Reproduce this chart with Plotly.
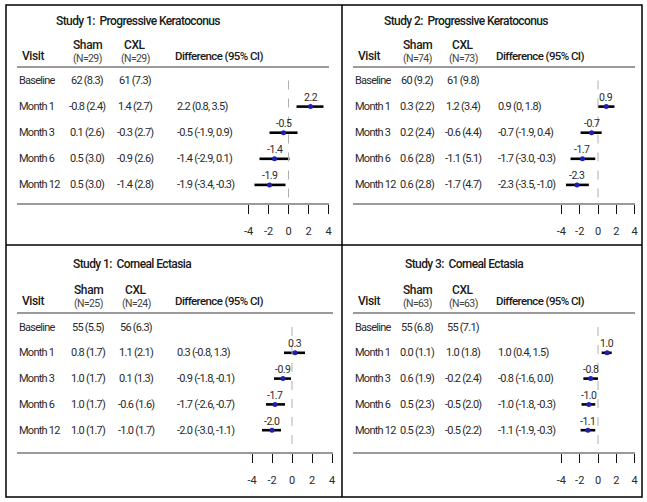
import plotly.graph_objects as go

W, H = 647, 502

visits = ["Baseline", "Month 1", "Month 3", "Month 6", "Month 12"]
titles = ["Study 1:&nbsp; Progressive Keratoconus", "Study 2:&nbsp; Progressive Keratoconus",
          "Study 1:&nbsp; Corneal Ectasia", "Study 3:&nbsp; Corneal Ectasia"]
sham_n = [29, 74, 25, 63]
cxl_n = [29, 73, 24, 63]

# Panel 1: Study 1 Progressive Keratoconus
p1_sham = ["62 (8.3)", "-0.8 (2.4)", "0.1 (2.6)", "0.5 (3.0)", "0.5 (3.0)"]
p1_cxl = ["61 (7.3)", "1.4 (2.7)", "-0.3 (2.7)", "-0.9 (2.6)", "-1.4 (2.8)"]
p1_diff_txt = ["2.2 (0.8, 3.5)", "-0.5 (-1.9, 0.9)", "-1.4 (-2.9, 0.1)", "-1.9 (-3.4, -0.3)"]
p1_diff = [2.2, -0.5, -1.4, -1.9]
p1_lo = [0.8, -1.9, -2.9, -3.4]
p1_hi = [3.5, 0.9, 0.1, -0.3]

# Panel 2: Study 2 Progressive Keratoconus
p2_sham = ["60 (9.2)", "0.3 (2.2)", "0.2 (2.4)", "0.6 (2.8)", "0.6 (2.8)"]
p2_cxl = ["61 (9.8)", "1.2 (3.4)", "-0.6 (4.4)", "-1.1 (5.1)", "-1.7 (4.7)"]
p2_diff_txt = ["0.9 (0, 1.8)", "-0.7 (-1.9, 0.4)", "-1.7 (-3.0, -0.3)", "-2.3 (-3.5, -1.0)"]
p2_diff = [0.9, -0.7, -1.7, -2.3]
p2_lo = [0.0, -1.9, -3.0, -3.5]
p2_hi = [1.8, 0.4, -0.3, -1.0]

# Panel 3: Study 1 Corneal Ectasia
p3_sham = ["55 (5.5)", "0.8 (1.7)", "1.0 (1.7)", "1.0 (1.7)", "1.0 (1.7)"]
p3_cxl = ["56 (6.3)", "1.1 (2.1)", "0.1 (1.3)", "-0.6 (1.6)", "-1.0 (1.7)"]
p3_diff_txt = ["0.3 (-0.8, 1.3)", "-0.9 (-1.8, -0.1)", "-1.7 (-2.6, -0.7)", "-2.0 (-3.0, -1.1)"]
p3_diff = [0.3, -0.9, -1.7, -2.0]
p3_lo = [-0.8, -1.8, -2.6, -3.0]
p3_hi = [1.3, -0.1, -0.7, -1.1]

# Panel 4: Study 3 Corneal Ectasia
p4_sham = ["55 (6.8)", "0.0 (1.1)", "0.6 (1.9)", "0.5 (2.3)", "0.5 (2.3)"]
p4_cxl = ["55 (7.1)", "1.0 (1.8)", "-0.2 (2.4)", "-0.5 (2.0)", "-0.5 (2.2)"]
p4_diff_txt = ["1.0 (0.4, 1.5)", "-0.8 (-1.6, 0.0)", "-1.0 (-1.8, -0.3)", "-1.1 (-1.9, -0.3)"]
p4_diff = [1.0, -0.8, -1.0, -1.1]
p4_lo = [0.4, -1.6, -1.8, -1.9]
p4_hi = [1.5, 0.0, -0.3, -0.3]

tick_vals = [-4, -2, 0, 2, 4]
tick_text = ["-4", "-2", "0", "2", "4"]

FONT = "Roboto, Liberation Sans, sans-serif"
TXT = "#2a2a2a"


def px(x):
    return x / W


def py(y):
    return 1 - y / H


def tight(t, ls):
    return '<span style="letter-spacing:%spx">%s</span>' % (ls, t)


panels = [
    dict(sham=p1_sham, cxl=p1_cxl, dtxt=p1_diff_txt, d=p1_diff, lo=p1_lo, hi=p1_hi),
    dict(sham=p2_sham, cxl=p2_cxl, dtxt=p2_diff_txt, d=p2_diff, lo=p2_lo, hi=p2_hi),
    dict(sham=p3_sham, cxl=p3_cxl, dtxt=p3_diff_txt, d=p3_diff, lo=p3_lo, hi=p3_hi),
    dict(sham=p4_sham, cxl=p4_cxl, dtxt=p4_diff_txt, d=p4_diff, lo=p4_lo, hi=p4_hi),
]

geo = [
    dict(left=17, sham_x=87, cxl_x=135, diff_x=173, title_x=138, right=329,
         zero=288.5, ppu=10.0, dom=(240, 337),
         title_y=21, sham_y=45, n_y=58, visit_y=56, hline=67, row0=80.5, step=26.1,
         axis=204),
    dict(left=353, sham_x=417, cxl_x=463, diff_x=494, title_x=466, right=635,
         zero=598, ppu=9.15, dom=(552, 640),
         title_y=21, sham_y=45, n_y=58, visit_y=56, hline=67, row0=80.5, step=26.1,
         axis=204),
    dict(left=17, sham_x=88, cxl_x=136, diff_x=173, title_x=132, right=333,
         zero=292, ppu=10.0, dom=(240, 337),
         title_y=264, sham_y=290, n_y=303, visit_y=301, hline=313, row0=327, step=25.8,
         axis=453),
    dict(left=353, sham_x=418, cxl_x=463, diff_x=494, title_x=464, right=635,
         zero=598, ppu=9.15, dom=(552, 640),
         title_y=264, sham_y=290, n_y=303, visit_y=301, hline=313, row0=327, step=25.8,
         axis=453),
]

fig = go.Figure()
annotations = []
shapes = []
layout_axes = {}

for i, (p, g) in enumerate(zip(panels, geo)):
    k = "" if i == 0 else str(i + 1)
    xa, ya = "x" + k, "y" + k
    x0 = (g["dom"][0] - g["zero"]) / g["ppu"]
    x1 = (g["dom"][1] - g["zero"]) / g["ppu"]
    ytop_px = g["hline"] + 2
    r_top = (ytop_px - g["row0"]) / g["step"]
    r_bot = (g["axis"] - g["row0"]) / g["step"]
    layout_axes["xaxis" + k] = dict(
        domain=[px(g["dom"][0]), px(g["dom"][1])], range=[x0, x1], anchor=ya,
        showgrid=False, zeroline=False, showline=False,
        tickvals=tick_vals, ticktext=tick_text, ticks="outside", ticklen=9,
        tickcolor="#111", tickwidth=1, ticklabelstandoff=8,
        tickfont=dict(family=FONT, size=11, color=TXT), fixedrange=True)
    layout_axes["yaxis" + k] = dict(
        domain=[py(g["axis"]), py(ytop_px)], range=[r_bot, r_top], anchor=xa,
        showgrid=False, zeroline=False, showline=False, showticklabels=False,
        ticks="", fixedrange=True)

    rows = list(range(1, len(visits)))
    cx, cy = [], []
    for r, lo, hi in zip(rows, p["lo"], p["hi"]):
        cx += [lo, hi, None]
        cy += [r, r, None]
    fig.add_trace(go.Scatter(x=cx, y=cy, mode="lines", xaxis=xa, yaxis=ya,
                             line=dict(color="#000", width=2.6), showlegend=False,
                             hoverinfo="skip"))
    fig.add_trace(go.Scatter(x=p["d"], y=rows, mode="markers", xaxis=xa, yaxis=ya,
                             marker=dict(color="#1f1fb4", size=5), showlegend=False))
    for r, d in zip(rows, p["d"]):
        annotations.append(dict(x=d, y=r, xref=xa, yref=ya, text=tight(f"{d:.1f}", -0.5),
                                showarrow=False, yshift=9,
                                font=dict(family=FONT, size=10.5, color=TXT)))
    shapes.append(dict(type="line", xref=xa, yref=ya, x0=0, x1=0, y0=0, y1=r_bot,
                       line=dict(color="#b0b0b0", width=1, dash="dash")))

    for yy in (g["hline"], g["axis"]):
        shapes.append(dict(type="line", xref="paper", yref="paper",
                           x0=px(g["left"]), x1=px(g["right"]), y0=py(yy), y1=py(yy),
                           line=dict(color="#9a9a9a", width=2)))

    def txt(x, y, t, size=11, anchor="left", weight="normal", color=TXT, ls=-0.75):
        annotations.append(dict(x=px(x), y=py(y), xref="paper", yref="paper",
                                text=tight(t, ls), showarrow=False,
                                xanchor=anchor, yanchor="middle",
                                font=dict(family=FONT, size=size, color=color,
                                          weight=weight)))

    txt(g["title_x"], g["title_y"], titles[i], size=12, anchor="center", weight=500,
        color="#1a1a1a", ls=-0.6)
    txt(g["left"] + 3, g["visit_y"], "Visit", size=12, weight=500, color="#1a1a1a", ls=-0.4)
    txt(g["sham_x"], g["sham_y"], "Sham", size=12, anchor="center", weight=500,
        color="#1a1a1a", ls=-0.4)
    txt(g["sham_x"], g["n_y"], f"(N={sham_n[i]})", size=10.5, anchor="center",
        color="#444", ls=-0.6)
    txt(g["cxl_x"], g["sham_y"], "CXL", size=12, anchor="center", weight=500,
        color="#1a1a1a", ls=-0.4)
    txt(g["cxl_x"], g["n_y"], f"(N={cxl_n[i]})", size=10.5, anchor="center",
        color="#444", ls=-0.6)
    txt(g["diff_x"], g["visit_y"], "Difference (95% CI)", size=11.5, weight=500,
        color="#1a1a1a", ls=-0.6)
    for r, v in enumerate(visits):
        yy = g["row0"] + g["step"] * r
        txt(g["left"], yy, v, size=11)
        txt(g["sham_x"], yy, p["sham"][r], size=11, anchor="center")
        txt(g["cxl_x"], yy, p["cxl"][r], size=11, anchor="center")
        if r >= 1:
            txt(g["diff_x"] + 2, yy, p["dtxt"][r - 1], size=11)

B = dict(color="#000", width=1.5)
shapes.append(dict(type="rect", xref="paper", yref="paper", x0=px(6), x1=px(642),
                   y0=py(497), y1=py(5), line=B))
shapes.append(dict(type="line", xref="paper", yref="paper", x0=px(342), x1=px(342),
                   y0=py(497), y1=py(5), line=B))
shapes.append(dict(type="line", xref="paper", yref="paper", x0=px(6), x1=px(642),
                   y0=py(245), y1=py(245), line=B))

fig.update_layout(width=W, height=H, margin=dict(l=0, r=0, t=0, b=0),
                  paper_bgcolor="white", plot_bgcolor="rgba(0,0,0,0)",
                  annotations=annotations, shapes=shapes, showlegend=False,
                  **layout_axes)

fig.write_html("out.html", config={"displayModeBar": False},
               post_script="document.body.style.margin='0';document.body.style.overflow='hidden';")
